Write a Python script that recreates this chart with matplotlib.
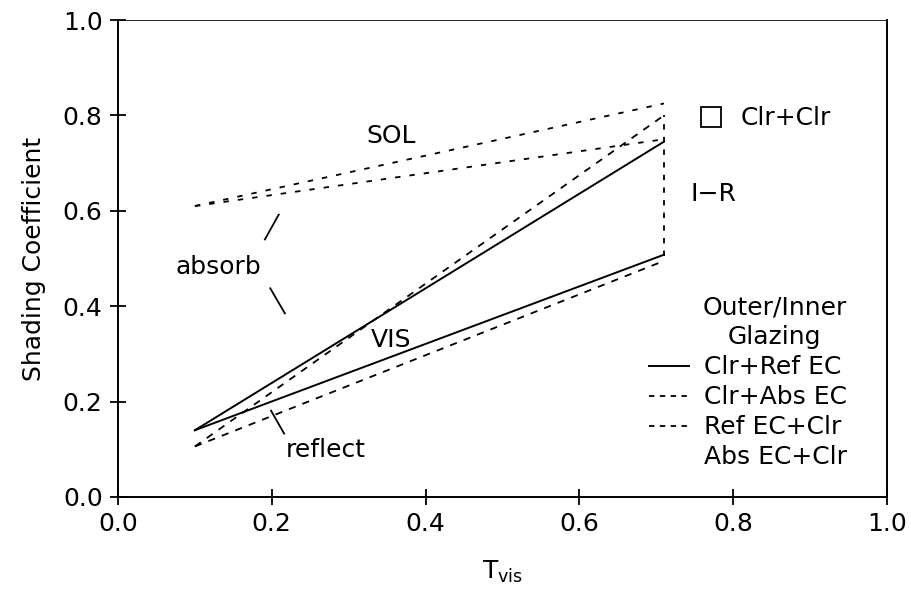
import matplotlib
matplotlib.use("Agg")
from matplotlib import pyplot as plt
from matplotlib.lines import Line2D

# visible transmittance at the two end points of every glazing line
tvis = [0.10, 0.71]

# shading coefficient, Clr+Ref EC (solid)
sc_clr_ref_sol = [0.14, 0.745]
sc_clr_ref_vis = [0.14, 0.508]

# shading coefficient, Ref EC+Clr (dashed)
sc_ref_clr_sol = [0.106, 0.80]
sc_ref_clr_vis = [0.106, 0.495]

# SOL lines for the absorbing coatings
sc_clr_abs_sol = [0.61, 0.825]
sc_abs_clr_sol = [0.61, 0.75]

# Clr+Clr vertical "1-R" bar
tvis_clr = [0.71, 0.71]
sc_clr_clr = [0.505, 0.80]

xticks = [0.0, 0.2, 0.4, 0.6, 0.8, 1.0]
yticks = [0.0, 0.2, 0.4, 0.6, 0.8, 1.0]

fs = 18
plt.rcParams["font.family"] = ["DejaVu Sans"]

fig = plt.figure(figsize=(9.12, 5.94), dpi=100)
ax = fig.add_axes([0.1294, 0.1633, 0.8432, 0.803])

ax.plot(tvis, sc_clr_ref_sol, color="black", lw=1.4)
ax.plot(tvis, sc_clr_ref_vis, color="black", lw=1.4)
ax.plot(tvis, sc_ref_clr_sol, color="black", lw=1.3, dashes=(4, 4))
ax.plot(tvis, sc_ref_clr_vis, color="black", lw=1.3, dashes=(4, 4))
ax.plot(tvis, sc_clr_abs_sol, color="black", lw=1.3, dashes=(3, 5))
ax.plot(tvis, sc_abs_clr_sol, color="black", lw=1.3, dashes=(3, 5))
ax.plot(tvis_clr, sc_clr_clr, color="black", lw=1.3, dashes=(3, 4))

# labels on the plot
ax.text(0.355, 0.756, "SOL", fontsize=fs, ha="center", va="center")
ax.text(0.355, 0.33, "VIS", fontsize=fs, ha="center", va="center")
ax.text(0.774, 0.635, "I\u2212R", fontsize=fs, ha="center", va="center")
ax.text(0.13, 0.483, "absorb", fontsize=fs, ha="center", va="center")
ax.text(0.27, 0.098, "reflect", fontsize=fs, ha="center", va="center")
ax.plot([0.209, 0.191], [0.592, 0.540], color="black", lw=1.3)
ax.plot([0.198, 0.217], [0.4375, 0.385], color="black", lw=1.3)
ax.plot([0.199, 0.216], [0.181, 0.133], color="black", lw=1.3)

# legends
h_main = [
    Line2D([], [], color="black", lw=1.4),
    Line2D([], [], color="black", lw=1.3, dashes=(3, 3)),
    Line2D([], [], color="black", lw=1.3, dashes=(3, 3)),
    Line2D([], [], color="none"),
]
labels = ["Clr+Ref EC", "Clr+Abs EC", "Ref EC+Clr", "Abs EC+Clr"]
leg = ax.legend(h_main, labels, title="Outer/Inner\nGlazing", loc="upper left",
                bbox_to_anchor=(0.69, 0.422), frameon=False, fontsize=fs,
                title_fontsize=fs, handlelength=1.6, handletextpad=0.6,
                labelspacing=0.24, borderpad=0.0, borderaxespad=0.0,
                alignment="right")
leg.get_title().set_multialignment("center")
leg.get_title().set_linespacing(1.3)
ax.add_artist(leg)

h_clr = [Line2D([], [], color="black", marker="s", markersize=15,
                markerfacecolor="none", markeredgewidth=1.3, ls="none")]
ax.legend(h_clr, ["Clr+Clr"], loc="center left", bbox_to_anchor=(0.755, 0.794),
          frameon=False, fontsize=fs, handlelength=1.0, handletextpad=0.7,
          borderpad=0.0, borderaxespad=0.0)

ax.set_xlim(0, 1)
ax.set_ylim(0, 1)
ax.set_xticks(xticks)
ax.set_yticks(yticks)
ax.set_xticklabels([f"{v:.1f}" for v in xticks])
ax.set_yticklabels([f"{v:.1f}" for v in yticks])
ax.tick_params(direction="inout", length=12, width=1.3, labelsize=fs, pad=5)
ax.tick_params(top=False, right=False)
for s in ["left", "bottom", "right"]:
    ax.spines[s].set_linewidth(1.4)
ax.spines["top"].set_linewidth(0.6)

ax.set_xlabel(r"T$_{\mathrm{vis}}$", fontsize=fs, labelpad=16)
ax.set_ylabel("Shading Coefficient", fontsize=fs, labelpad=12)

fig.savefig("out.png", dpi=100)
